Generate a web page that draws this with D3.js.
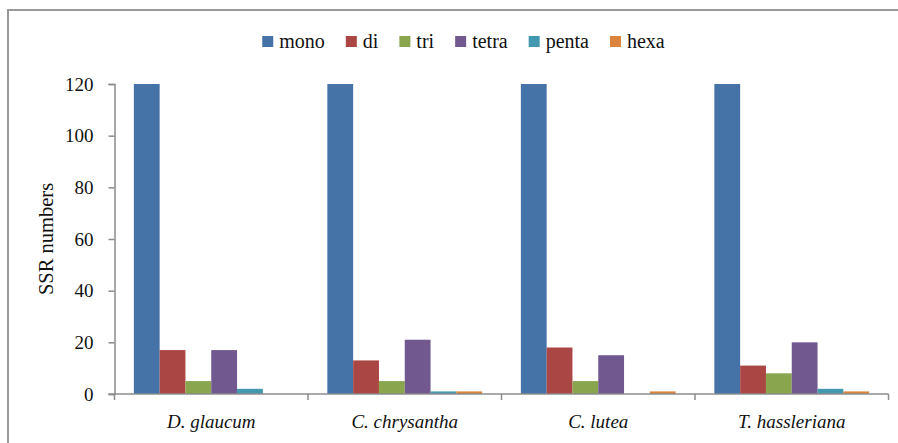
<!DOCTYPE html>
<html>
<head>
<meta charset="utf-8">
<script src="https://cdn.jsdelivr.net/npm/d3@7"></script>
<style>
  html, body { margin: 0; padding: 0; background: #fff; }
  svg { display: block; }
  text { font-family: "Liberation Serif", "DejaVu Serif", serif; fill: #111; }
</style>
</head>
<body>
<svg id="chart" width="898" height="443"></svg>
<script>
// SSR repeat-type counts per species
const species = ["D. glaucum", "C. chrysantha", "C. lutea", "T. hassleriana"];
const repeatTypes = ["mono", "di", "tri", "tetra", "penta", "hexa"];
const mono  = [120, 120, 120, 120];
const di    = [17, 13, 18, 11];
const tri   = [5, 5, 5, 8];
const tetra = [17, 21, 15, 20];
const penta = [2, 1, 0, 2];
const hexa  = [0, 1, 1, 1];
const yTicks = [0, 20, 40, 60, 80, 100, 120];
const colors = ["#4572A7", "#AA4643", "#89A54E", "#71588F", "#4198AF", "#DB843D"];

const seriesValues = [mono, di, tri, tetra, penta, hexa];
const rows = species.map((s, i) => {
  const r = { species: s };
  repeatTypes.forEach((t, j) => { r[t] = seriesValues[j][i]; });
  return r;
});

const svg = d3.select("#chart");
const margin = { left: 114.5, right: 898 - 888.5, top: 84, bottom: 443 - 394 };
const W = 898, H = 443;

// outer frame
svg.append("rect")
  .attr("x", 8).attr("y", 10)
  .attr("width", 898).attr("height", 443)
  .attr("fill", "none").attr("stroke", "#9a9a9a").attr("stroke-width", 2);

const x0 = d3.scaleBand().domain(species)
  .range([margin.left, W - margin.right]).paddingInner(0).paddingOuter(0);
const x1 = d3.scaleBand().domain(repeatTypes)
  .range([0, x0.bandwidth()]).paddingInner(0).paddingOuter(0.75);
const y = d3.scaleLinear().domain([0, 120]).range([H - margin.bottom, margin.top]);
const color = d3.scaleOrdinal().domain(repeatTypes).range(colors);

// bars
const g = svg.append("g");
g.selectAll("g.grp").data(rows).join("g")
  .attr("class", "grp")
  .attr("transform", d => `translate(${x0(d.species)},0)`)
  .selectAll("rect")
  .data(d => repeatTypes.map(t => ({ key: t, value: d[t] })))
  .join("rect")
  .attr("x", d => x1(d.key))
  .attr("width", x1.bandwidth())
  .attr("y", d => y(d.value))
  .attr("height", d => y(0) - y(d.value))
  .attr("fill", d => color(d.key));

// y axis
const yAxis = svg.append("g")
  .attr("transform", `translate(${margin.left},0)`)
  .call(d3.axisLeft(y).tickValues(yTicks).tickSize(6).tickPadding(15));
yAxis.select(".domain").attr("stroke", "#8c8c8c").attr("stroke-width", 1.5);
yAxis.selectAll(".tick line").attr("stroke", "#8c8c8c").attr("stroke-width", 1.5);
yAxis.selectAll(".tick text")
  .style("font-family", "'Liberation Serif', serif").style("font-size", "19px").attr("fill", "#111");

// x axis with category separators
const xAxis = svg.append("g")
  .attr("transform", `translate(0,${y(0)})`);
xAxis.append("line")
  .attr("x1", margin.left - 6).attr("x2", W - margin.right)
  .attr("stroke", "#8c8c8c").attr("stroke-width", 1.5);
const sepPositions = species.map(s => x0(s)).concat([x0(species[species.length - 1]) + x0.bandwidth()]);
xAxis.selectAll("line.sep").data(sepPositions).join("line")
  .attr("class", "sep")
  .attr("x1", d => d).attr("x2", d => d)
  .attr("y1", 0).attr("y2", 6)
  .attr("stroke", "#8c8c8c").attr("stroke-width", 1.5);
xAxis.selectAll("text").data(species).join("text")
  .attr("x", d => x0(d) + x0.bandwidth() / 2)
  .attr("y", 34)
  .attr("text-anchor", "middle")
  .style("font-style", "italic")
  .style("font-size", "19px")
  .text(d => d);

// y axis title
svg.append("text")
  .attr("transform", `translate(53,${(y(0) + y(120)) / 2}) rotate(-90)`)
  .attr("text-anchor", "middle")
  .style("font-size", "20.5px")
  .text("SSR numbers");

// legend
const legend = svg.append("g");
const items = legend.selectAll("g").data(repeatTypes).join("g");
items.append("rect")
  .attr("width", 11).attr("height", 11)
  .attr("y", -12)
  .attr("fill", d => color(d));
items.append("text")
  .attr("x", 17).attr("y", 0)
  .style("font-size", "20px")
  .text(d => d);
let cx = 0;
const itemGap = 21;
items.each(function () {
  const node = d3.select(this);
  node.attr("transform", `translate(${cx},0)`);
  const tw = node.select("text").node().getComputedTextLength();
  cx += 17 + tw + itemGap;
});
const legendWidth = cx - itemGap;
legend.attr("transform", `translate(${463.5 - legendWidth / 2},48)`);
</script>
</body>
</html>
